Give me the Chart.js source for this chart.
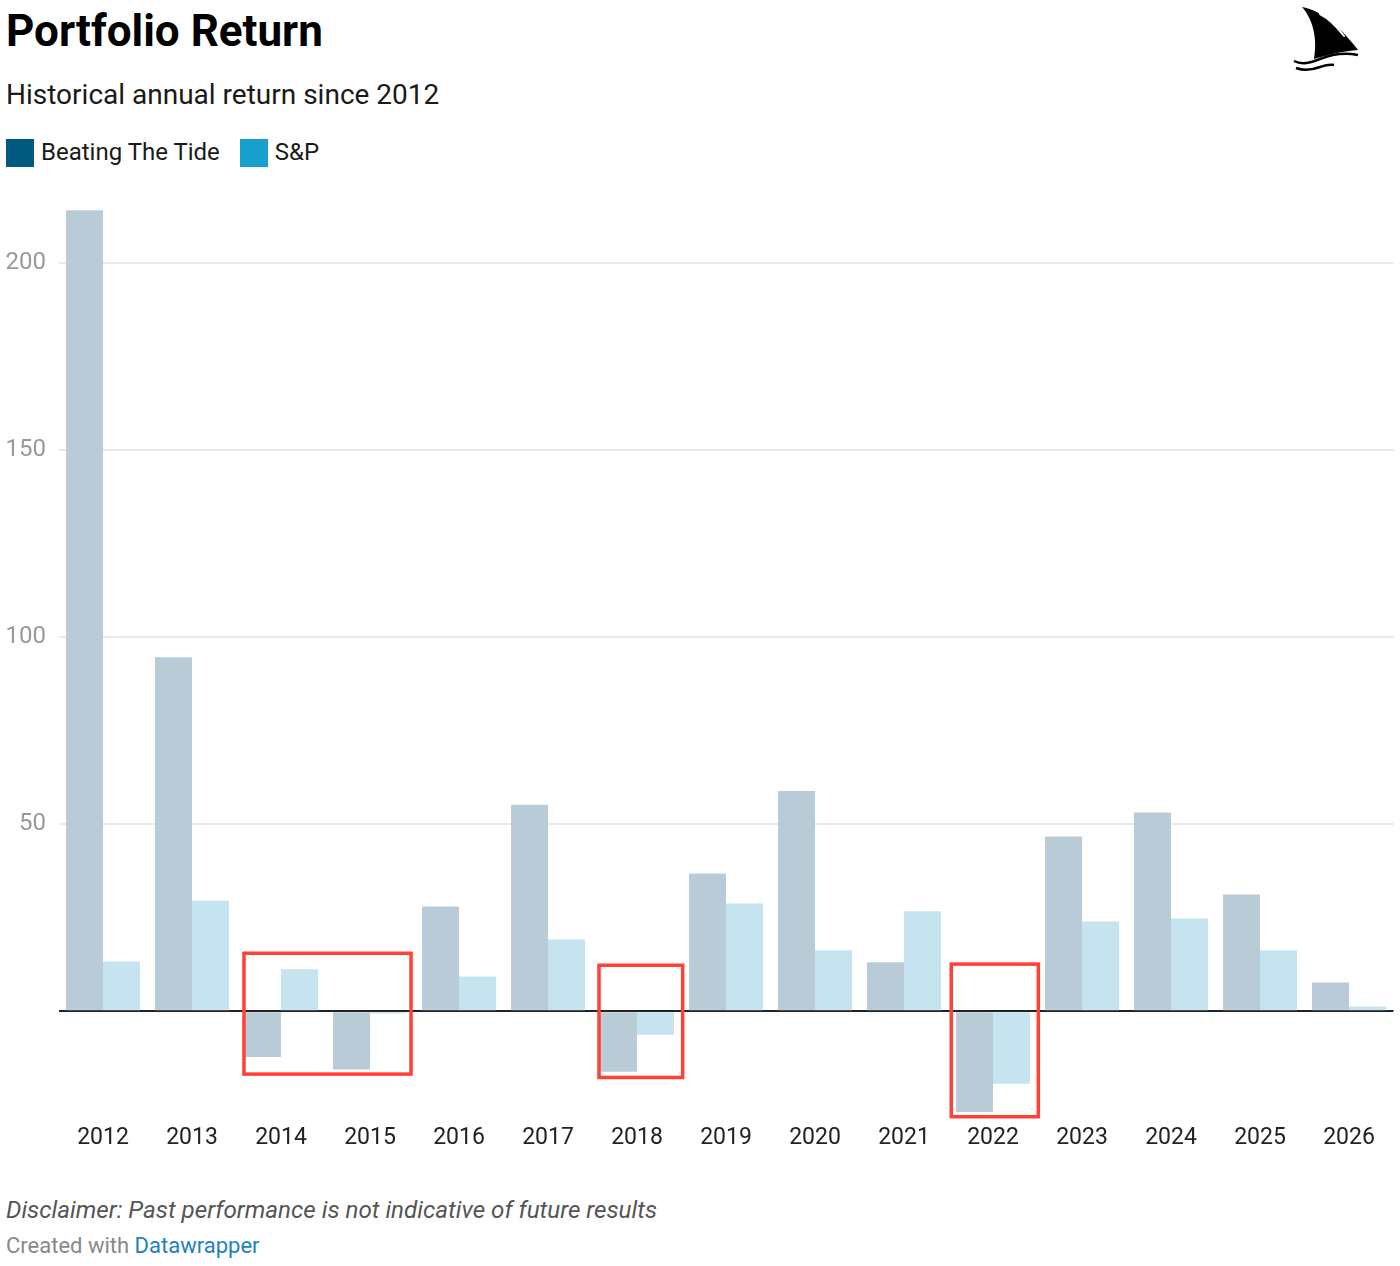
<!DOCTYPE html>
<html>
<head>
<meta charset="utf-8">
<script src="https://cdn.jsdelivr.net/npm/chart.js@4.4.1/dist/chart.umd.min.js"></script>
<style>
  body { margin:0; background:#fff; font-family: Roboto, "Noto Sans", sans-serif; }
  #wrap { position:relative; width:1400px; height:1266px; }
  .title { position:absolute; left:6px; top:5px; font-size:44px; font-weight:700; color:#000; }
  .sub { position:absolute; left:6px; top:78px; font-size:28px; color:#1a1a1a; }
  .legend { position:absolute; left:6px; top:137px; font-size:24px; color:#1a1a1a; }
  .legend span.sw { display:inline-block; width:28px; height:28px; vertical-align:middle; margin-right:7px; }
  .legend span.it { display:inline-block; margin-right:14px; vertical-align:middle; }
  #box { position:absolute; left:0; top:180px; width:1400px; height:990px; }
  .disc { position:absolute; left:6px; top:1196px; font-size:24.2px; font-style:italic; color:#555; }
  .made { position:absolute; left:6px; top:1233px; font-size:22px; color:#888; }
  .made b { font-weight:400; color:#1d81c4; }
  #logo { position:absolute; left:1290px; top:4px; }
</style>
</head>
<body>
<div id="wrap">
  <div class="title">Portfolio Return</div>
  <div class="sub">Historical annual return since 2012</div>
  <div class="legend">
    <span class="it"><span class="sw" style="background:#005a80"></span>Beating The Tide</span>
    <span class="it"><span class="sw" style="background:#18a1cd"></span>S&amp;P</span>
  </div>
  <svg id="logo" width="75" height="70" viewBox="0 0 75 70">
    <path d="M12 3 C30 6 50 22 68 46 C54 47 40 50 24 55 C27 38 25 18 12 3 Z" fill="#000"/>
    <path d="M30 10 C40 15 48 24 54 32" stroke="#fff" stroke-width="2" fill="none" stroke-linecap="round"/>
    <path d="M4 57 C12 61 20 59 30 55 C42 50 54 48 68 51" stroke="#000" stroke-width="2.5" fill="none"/>
    <path d="M6 64 C14 67 22 66 30 63 C36 61 40 60 44 61" stroke="#000" stroke-width="2.5" fill="none"/>
  </svg>
  <div id="box"><canvas id="myChart"></canvas></div>
  <div class="disc">Disclaimer: Past performance is not indicative of future results</div>
  <div class="made">Created with <b>Datawrapper</b></div>
</div>
<script>
var years = ["2012","2013","2014","2015","2016","2017","2018","2019","2020","2021","2022","2023","2024","2025","2026"];
var tideValues = [214.1, 94.6, -12.2, -15.6, 28.0, 55.2, -16.2, 36.8, 58.9, 13.1, -26.9, 46.7, 53.1, 31.2, 7.7];
var spValues = [13.3, 29.6, 11.2, -0.6, 9.3, 19.2, -6.3, 28.8, 16.3, 26.7, -19.4, 24.0, 24.8, 16.3, 1.3];
var yTicks = [0, 50, 100, 150, 200];
// red boxes: category index span and value span
var boxFrom = [1.584, 5.573, 9.531];
var boxTo = [3.461, 6.513, 10.509];
var boxTop = [15.5, 12.3, 12.6];
var boxBottom = [-16.8, -17.7, -28.2];

var redBoxes = {
  id: 'redBoxes',
  afterDraw: function(chart){
    var ctx = chart.ctx;
    var x = chart.scales.x, y = chart.scales.y;
    var x0 = x.getPixelForValue(0);
    var step = x.getPixelForValue(1) - x0;
    ctx.save();
    ctx.strokeStyle = '#ff4136';
    ctx.lineWidth = 3.5;
    for (var i = 0; i < boxFrom.length; i++) {
      var l = x0 + boxFrom[i]*step;
      var r = x0 + boxTo[i]*step;
      var t = y.getPixelForValue(boxTop[i]);
      var b = y.getPixelForValue(boxBottom[i]);
      ctx.strokeRect(l, t, r-l, b-t);
    }
    ctx.restore();
  }
};

new Chart("myChart", {
  type: "bar",
  data: {
    labels: years,
    datasets: [{
      label: "Beating The Tide",
      data: tideValues,
      backgroundColor: "#b9cbd7",
      barPercentage: 1,
      categoryPercentage: 0.831
    }, {
      label: "S&P",
      data: spValues,
      backgroundColor: "#c5e4f0",
      barPercentage: 1,
      categoryPercentage: 0.831
    }]
  },
  options: {
    responsive: true,
    maintainAspectRatio: false,
    animation: false,
    layout: { padding: { top: 24, right: 6.5, left: 0, bottom: 0 } },
    plugins: { legend: { display: false }, tooltip: { enabled: false } },
    scales: {
      x: {
        grid: { display: false },
        border: { display: false },
        ticks: { color: "#222", font: { family: "Roboto", size: 23 }, padding: 0, maxRotation: 0, autoSkip: false },
        afterFit: function(s){ s.height = 54; }
      },
      y: {
        min: -28,
        max: 215,
        z: 1,
        border: { display: false },
        grid: {
          drawTicks: false,
          color: function(c){ return c.tick && c.tick.value === 0 ? "#222" : "rgba(0,0,0,0.09)"; },
          lineWidth: 2
        },
        afterBuildTicks: function(s){ s.ticks = yTicks.map(function(v){ return { value: v }; }); },
        ticks: {
          color: "#999",
          font: { family: "Roboto", size: 24 },
          padding: 12.5,
          callback: function(v){ return v === 0 ? "" : v; }
        },
        afterFit: function(s){ s.width = 58.5; }
      }
    }
  },
  plugins: [redBoxes]
});
</script>
</body>
</html>
